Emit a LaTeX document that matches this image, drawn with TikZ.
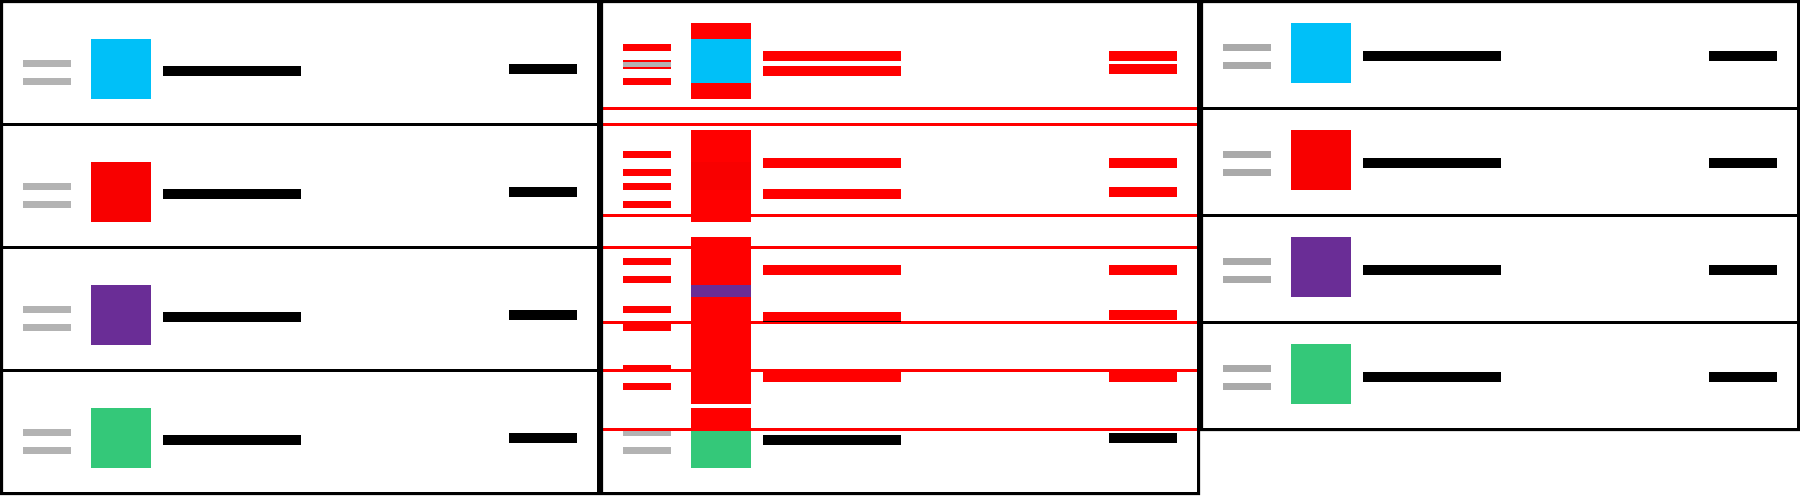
\documentclass[tikz,border=0pt]{standalone}
\definecolor{cyanc}{HTML}{00C0F8}
\definecolor{redc}{HTML}{F80000}
\definecolor{purpc}{HTML}{6A2D96}
\definecolor{greenc}{HTML}{34C879}
\definecolor{grayL}{HTML}{B3B3B3}
\definecolor{grayR}{HTML}{AAAAAA}
\definecolor{diffred}{HTML}{FF0000}
\begin{document}
\begin{tikzpicture}[x=0.5pt,y=-0.5pt,
  framefill/.style={fill=black,even odd rule},
  handleL/.style={fill=grayL},
  handleR/.style={fill=grayR},
  barfill/.style={fill=black},
  difffill/.style={fill=diffred}]
\useasboundingbox (0,0) rectangle (1800,495);
\fill[white] (0,0) rectangle (1800,495);

% ---------- left panel (before) ----------
\fill[framefill] (0,0) rectangle (600,495) (3,3) rectangle (597,492);
\foreach \s in {123,246,369} \fill[barfill] (3,\s) rectangle (597,\s+3);
\foreach \T/\c in {1.5/cyanc,124.5/redc,247.5/purpc,370.5/greenc} {
  \fill[handleL] (23,\T+58.5) rectangle (71,\T+65.5);
  \fill[handleL] (23,\T+76.5) rectangle (71,\T+83.5);
  \fill[\c] (91,\T+37.5) rectangle (151,\T+97.5);
  \fill[barfill] (163,\T+64.5) rectangle (301,\T+74.5);
  \fill[barfill] (509,\T+62.5) rectangle (577,\T+72.5);
}

% ---------- right panel (after) ----------
\fill[framefill] (1200,0) rectangle (1800,431) (1203,3) rectangle (1797,428);
\foreach \s in {107,214,321} \fill[barfill] (1203,\s) rectangle (1797,\s+3);
\foreach \T/\c in {1.5/cyanc,108.5/redc,215.5/purpc,322.5/greenc} {
  \fill[handleR] (1223,\T+42.5) rectangle (1271,\T+49.5);
  \fill[handleR] (1223,\T+60.5) rectangle (1271,\T+67.5);
  \fill[\c] (1291,\T+21.5) rectangle (1351,\T+81.5);
  \fill[barfill] (1363,\T+49.5) rectangle (1501,\T+59.5);
  \fill[barfill] (1709,\T+49.5) rectangle (1777,\T+59.5);
}

% ---------- middle panel (difference) ----------
\begin{scope}
  \clip (603,3) rectangle (1197,431);
  \foreach \s in {123,246,369,107,214,321,428} \fill[difffill] (603,\s) rectangle (1197,\s+3);
  \foreach \T in {1.5,124.5,247.5,370.5} {
    \fill[difffill] (623,\T+58.5) rectangle (671,\T+65.5);
    \fill[difffill] (623,\T+76.5) rectangle (671,\T+83.5);
    \fill[difffill] (691,\T+37.5) rectangle (751,\T+97.5);
    \fill[difffill] (763,\T+64.5) rectangle (901,\T+74.5);
    \fill[difffill] (1109,\T+62.5) rectangle (1177,\T+72.5);
  }
  \foreach \T in {1.5,108.5,215.5,322.5} {
    \fill[difffill] (623,\T+42.5) rectangle (671,\T+49.5);
    \fill[difffill] (623,\T+60.5) rectangle (671,\T+67.5);
    \fill[difffill] (691,\T+21.5) rectangle (751,\T+81.5);
    \fill[difffill] (763,\T+49.5) rectangle (901,\T+59.5);
    \fill[difffill] (1109,\T+49.5) rectangle (1177,\T+59.5);
  }
  % unchanged overlaps keep their colour
  \fill[handleL] (623,62) rectangle (671,67);
  \fill[cyanc] (691,39) rectangle (751,83);
  \fill[redc] (691,162) rectangle (751,190);
  \fill[purpc] (691,285) rectangle (751,297);
  \fill[barfill] (763,321) rectangle (901,322);
\end{scope}
\begin{scope}
  \clip (603,431) rectangle (1197,492);
  \fill[handleL] (623,429) rectangle (671,436);
  \fill[handleL] (623,447) rectangle (671,454);
  \fill[greenc] (691,408) rectangle (751,468);
  \fill[barfill] (763,435) rectangle (901,445);
  \fill[barfill] (1109,433) rectangle (1177,443);
\end{scope}
\fill[framefill] (600,0) rectangle (1200,495) (603,3) rectangle (1197,492);
\end{tikzpicture}
\end{document}
